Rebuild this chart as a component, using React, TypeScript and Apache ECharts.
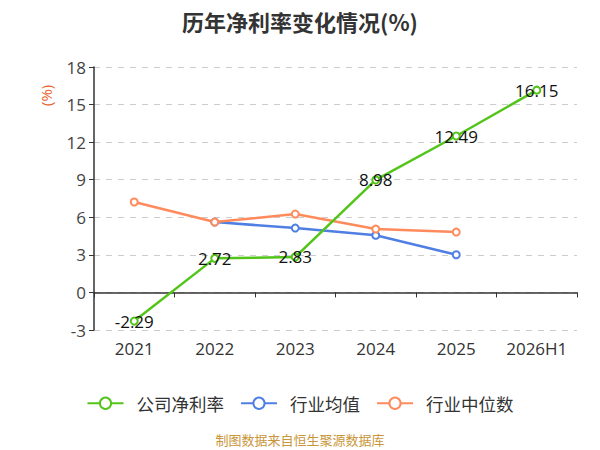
import React, { useEffect, useRef } from "react";
import * as echarts from "echarts";

const categories = ["2021", "2022", "2023", "2024", "2025", "2026H1"];
const companyNetMargin = [-2.29, 2.72, 2.83, 8.98, 12.49, 16.15];
const industryMean = [null, 5.62, 5.14, 4.56, 3.01, null];
const industryMedian = [7.22, 5.62, 6.26, 5.06, 4.82, null];
const seriesNames = ["公司净利率", "行业均值", "行业中位数"];
const colors = ["#52C41A", "#4F7FE3", "#FF8A5B"];

const FONT = "'Open Sans', 'Noto Sans CJK SC', sans-serif";
const CJK = "'Noto Sans CJK SC', 'Noto Sans', sans-serif";

export default function App() {
  const ref = useRef<HTMLDivElement>(null);
  useEffect(() => {
    if (!ref.current) return;
    const chart = echarts.init(ref.current, null, { renderer: "svg" });
    const mkSeries = (i: number, data: (number | null)[], label: boolean) => ({
      name: seriesNames[i],
      type: "line",
      data,
      xAxisIndex: 0,
      symbol: "emptyCircle",
      symbolSize: 7,
      connectNulls: false,
      lineStyle: { width: 2.5, color: colors[i] },
      itemStyle: { color: colors[i], borderWidth: 1.5 },
      label: label
        ? {
            show: true,
            position: "inside",
            fontSize: 17,
            color: "#111",
            fontFamily: FONT,
          }
        : { show: false },
      z: i === 0 ? 5 : 3,
    });
    chart.setOption({
      animation: false,
      textStyle: { fontFamily: FONT },
      title: {
        text: "历年净利率变化情况(%)",
        left: "center",
        top: 5,
        textStyle: { fontSize: 22, fontWeight: "bold", color: "#333", fontFamily: CJK },
      },
      grid: { left: 94, right: 23, top: 67, bottom: 120, containLabel: false },
      legend: {
        bottom: 33,
        left: "center",
        itemWidth: 36,
        itemHeight: 14,
        itemGap: 16,
        textStyle: { fontSize: 17.5, color: "#333", fontFamily: CJK, padding: [0, 0, 0, 8] },
        data: seriesNames,
      },
      xAxis: [
        {
          type: "category",
          data: categories,
          boundaryGap: true,
          position: "bottom",
          axisLine: { show: false, onZero: false },
          axisTick: { show: false },
          axisLabel: { fontSize: 17, color: "#333", margin: 10, fontFamily: FONT },
          splitLine: { show: false },
        },
        {
          type: "category",
          data: categories,
          boundaryGap: true,
          position: "bottom",
          axisLine: { show: true, onZero: true, lineStyle: { color: "#333", width: 1.5 } },
          axisTick: { show: true, length: 5, lineStyle: { color: "#333" } },
          axisLabel: { show: false },
          splitLine: { show: false },
        },
      ],
      yAxis: {
        type: "value",
        min: -3,
        max: 18,
        interval: 3,
        axisLine: { show: true, lineStyle: { color: "#333", width: 1.5 } },
        axisTick: { show: true, length: 5, lineStyle: { color: "#333" } },
        axisLabel: { fontSize: 17, color: "#444", margin: 8, fontFamily: FONT },
        splitLine: { show: true, lineStyle: { type: [6, 6], color: "#ccc", width: 1.2 } },
      },
      graphic: [
        {
          type: "text",
          x: 38,
          y: 106,
          rotation: Math.PI / 2,
          style: {
            text: "(%)",
            fontSize: 15,
            fill: "#E8642C",
            fontFamily: FONT,
          },
        },
        {
          type: "text",
          left: "center",
          top: 433,
          style: {
            text: "制图数据来自恒生聚源数据库",
            fontSize: 13,
            fill: "#C9963A",
            fontFamily: CJK,
          },
        },
      ],
      series: [
        mkSeries(0, companyNetMargin, true),
        mkSeries(1, industryMean, false),
        mkSeries(2, industryMedian, false),
      ],
    });
    return () => chart.dispose();
  }, []);
  return <div ref={ref} style={{ width: 600, height: 450, position: "absolute", left: 0, top: 0 }} />;
}
